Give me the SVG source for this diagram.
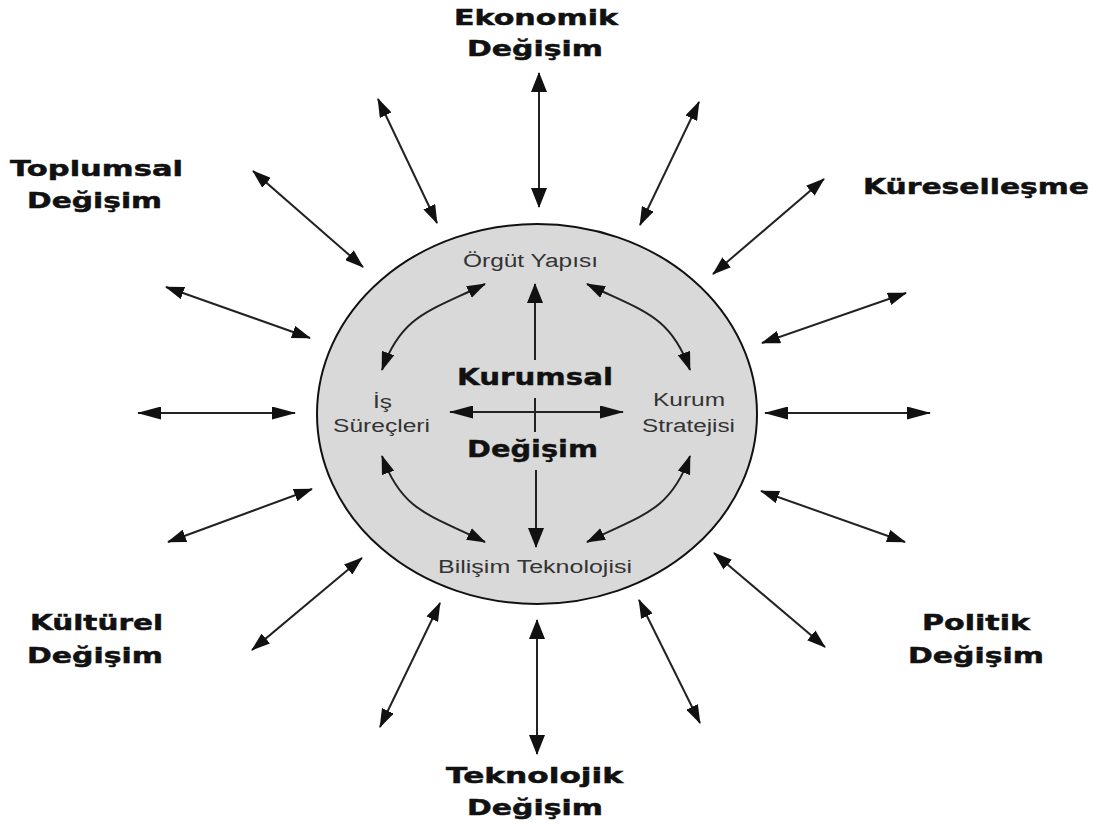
<svg xmlns="http://www.w3.org/2000/svg" width="1094" height="827" viewBox="0 0 1094 827">
<style>
.lbl{font-family:"DejaVu Sans","Liberation Sans",Arial,sans-serif;font-weight:bold;font-size:22px;fill:#111;stroke:#111;stroke-width:0.5}
.in{font-family:"Liberation Sans",Arial,sans-serif;font-size:18px;fill:#333}
.ctr{font-family:"DejaVu Sans","Liberation Sans",Arial,sans-serif;font-weight:bold;font-size:23px;fill:#111;stroke:#111;stroke-width:0.4}
.c{fill:none;stroke:#222;stroke-width:2}
</style>
<defs>
<marker id="md" markerUnits="userSpaceOnUse" markerWidth="19" markerHeight="13" refX="18" refY="6.5" orient="auto-start-reverse"><path d="M0,0 L19,6.5 L0,13 z" fill="#111"/></marker>
<marker id="mh" markerUnits="userSpaceOnUse" markerWidth="24" markerHeight="13" refX="23" refY="6.5" orient="auto-start-reverse"><path d="M0,0 L24,6.5 L0,13 z" fill="#111"/></marker>
<marker id="mv" markerUnits="userSpaceOnUse" markerWidth="20" markerHeight="16" refX="19" refY="8" orient="auto-start-reverse"><path d="M0,0 L20,8 L0,16 z" fill="#111"/></marker>
</defs>
<rect width="1094" height="827" fill="#fff"/>

<g id="kurumsal-degisim">
<ellipse cx="537" cy="414" rx="220" ry="190" fill="#d9d9d9" stroke="#111" stroke-width="2"/>
<text class="ctr" x="457" y="385" textLength="156" lengthAdjust="spacingAndGlyphs">Kurumsal</text>
<text class="ctr" x="467" y="457" textLength="131" lengthAdjust="spacingAndGlyphs">Değişim</text>
</g>
<g id="orgut-yapisi"><text class="in" x="463" y="267" textLength="135" lengthAdjust="spacingAndGlyphs">Örgüt Yapısı</text></g>
<g id="is-surecleri">
<text class="in" x="373" y="408" textLength="19" lengthAdjust="spacingAndGlyphs">İş</text>
<text class="in" x="333" y="432" textLength="97" lengthAdjust="spacingAndGlyphs">Süreçleri</text>
</g>
<g id="kurum-stratejisi">
<text class="in" x="653" y="406" textLength="72" lengthAdjust="spacingAndGlyphs">Kurum</text>
<text class="in" x="642" y="432" textLength="93" lengthAdjust="spacingAndGlyphs">Stratejisi</text>
</g>
<g id="bilisim-teknolojisi"><text class="in" x="438" y="573" textLength="194" lengthAdjust="spacingAndGlyphs">Bilişim Teknolojisi</text></g>

<g id="ekonomik-degisim">
<text class="lbl" x="454" y="25" textLength="164" lengthAdjust="spacingAndGlyphs">Ekonomik</text>
<text class="lbl" x="467" y="56" textLength="136" lengthAdjust="spacingAndGlyphs">Değişim</text>
</g>
<g id="toplumsal-degisim">
<text class="lbl" x="10" y="176" textLength="173" lengthAdjust="spacingAndGlyphs">Toplumsal</text>
<text class="lbl" x="27" y="208" textLength="135" lengthAdjust="spacingAndGlyphs">Değişim</text>
</g>
<g id="kuresellesme">
<text class="lbl" x="863" y="194" textLength="226" lengthAdjust="spacingAndGlyphs">Küreselleşme</text>
</g>
<g id="kulturel-degisim">
<text class="lbl" x="30" y="630" textLength="133" lengthAdjust="spacingAndGlyphs">Kültürel</text>
<text class="lbl" x="27" y="663" textLength="136" lengthAdjust="spacingAndGlyphs">Değişim</text>
</g>
<g id="politik-degisim">
<text class="lbl" x="922" y="630" textLength="108" lengthAdjust="spacingAndGlyphs">Politik</text>
<text class="lbl" x="908" y="663" textLength="136" lengthAdjust="spacingAndGlyphs">Değişim</text>
</g>
<g id="teknolojik-degisim">
<text class="lbl" x="446" y="783" textLength="177" lengthAdjust="spacingAndGlyphs">Teknolojik</text>
<text class="lbl" x="467" y="815" textLength="136" lengthAdjust="spacingAndGlyphs">Değişim</text>
</g>

<g id="connectors">
<line class="c" x1="539" y1="73" x2="539" y2="207" marker-start="url(#mv)" marker-end="url(#mv)"/>
<line class="c" x1="378" y1="99" x2="437" y2="223" marker-start="url(#md)" marker-end="url(#md)"/>
<line class="c" x1="253" y1="171" x2="363" y2="267" marker-start="url(#md)" marker-end="url(#md)"/>
<line class="c" x1="166" y1="287" x2="310" y2="338" marker-start="url(#md)" marker-end="url(#md)"/>
<line class="c" x1="138" y1="413" x2="295" y2="413" marker-start="url(#mh)" marker-end="url(#mh)"/>
<line class="c" x1="168" y1="542" x2="312" y2="489" marker-start="url(#md)" marker-end="url(#md)"/>
<line class="c" x1="252" y1="650" x2="362" y2="558" marker-start="url(#md)" marker-end="url(#md)"/>
<line class="c" x1="380" y1="727" x2="440" y2="603" marker-start="url(#md)" marker-end="url(#md)"/>
<line class="c" x1="537" y1="620" x2="537" y2="754" marker-start="url(#mv)" marker-end="url(#mv)"/>
<line class="c" x1="639" y1="600" x2="700" y2="723" marker-start="url(#md)" marker-end="url(#md)"/>
<line class="c" x1="714" y1="553" x2="825" y2="647" marker-start="url(#md)" marker-end="url(#md)"/>
<line class="c" x1="761" y1="491" x2="905" y2="542" marker-start="url(#md)" marker-end="url(#md)"/>
<line class="c" x1="765" y1="413" x2="930" y2="413" marker-start="url(#mh)" marker-end="url(#mh)"/>
<line class="c" x1="762" y1="343" x2="906" y2="293" marker-start="url(#md)" marker-end="url(#md)"/>
<line class="c" x1="713" y1="274" x2="824" y2="179" marker-start="url(#md)" marker-end="url(#md)"/>
<line class="c" x1="640" y1="225" x2="699" y2="102" marker-start="url(#md)" marker-end="url(#md)"/>

<line class="c" x1="535" y1="360" x2="535" y2="284" marker-end="url(#mv)"/>
<line class="c" x1="536" y1="470" x2="536" y2="547" marker-end="url(#mv)"/>
<line class="c" x1="450" y1="412" x2="623" y2="412" marker-start="url(#mh)" marker-end="url(#mh)"/>
<line class="c" x1="535" y1="398" x2="535" y2="432"/>
<path class="c" d="M485,284 C431,311 402,314 382,370" marker-start="url(#md)" marker-end="url(#md)"/>
<path class="c" d="M587,284 C641,311 670,314 690,370" marker-start="url(#md)" marker-end="url(#md)"/>
<path class="c" d="M382,456 C402,512 431,515 485,542" marker-start="url(#md)" marker-end="url(#md)"/>
<path class="c" d="M690,456 C670,512 641,515 587,542" marker-start="url(#md)" marker-end="url(#md)"/>
</g>
</svg>
